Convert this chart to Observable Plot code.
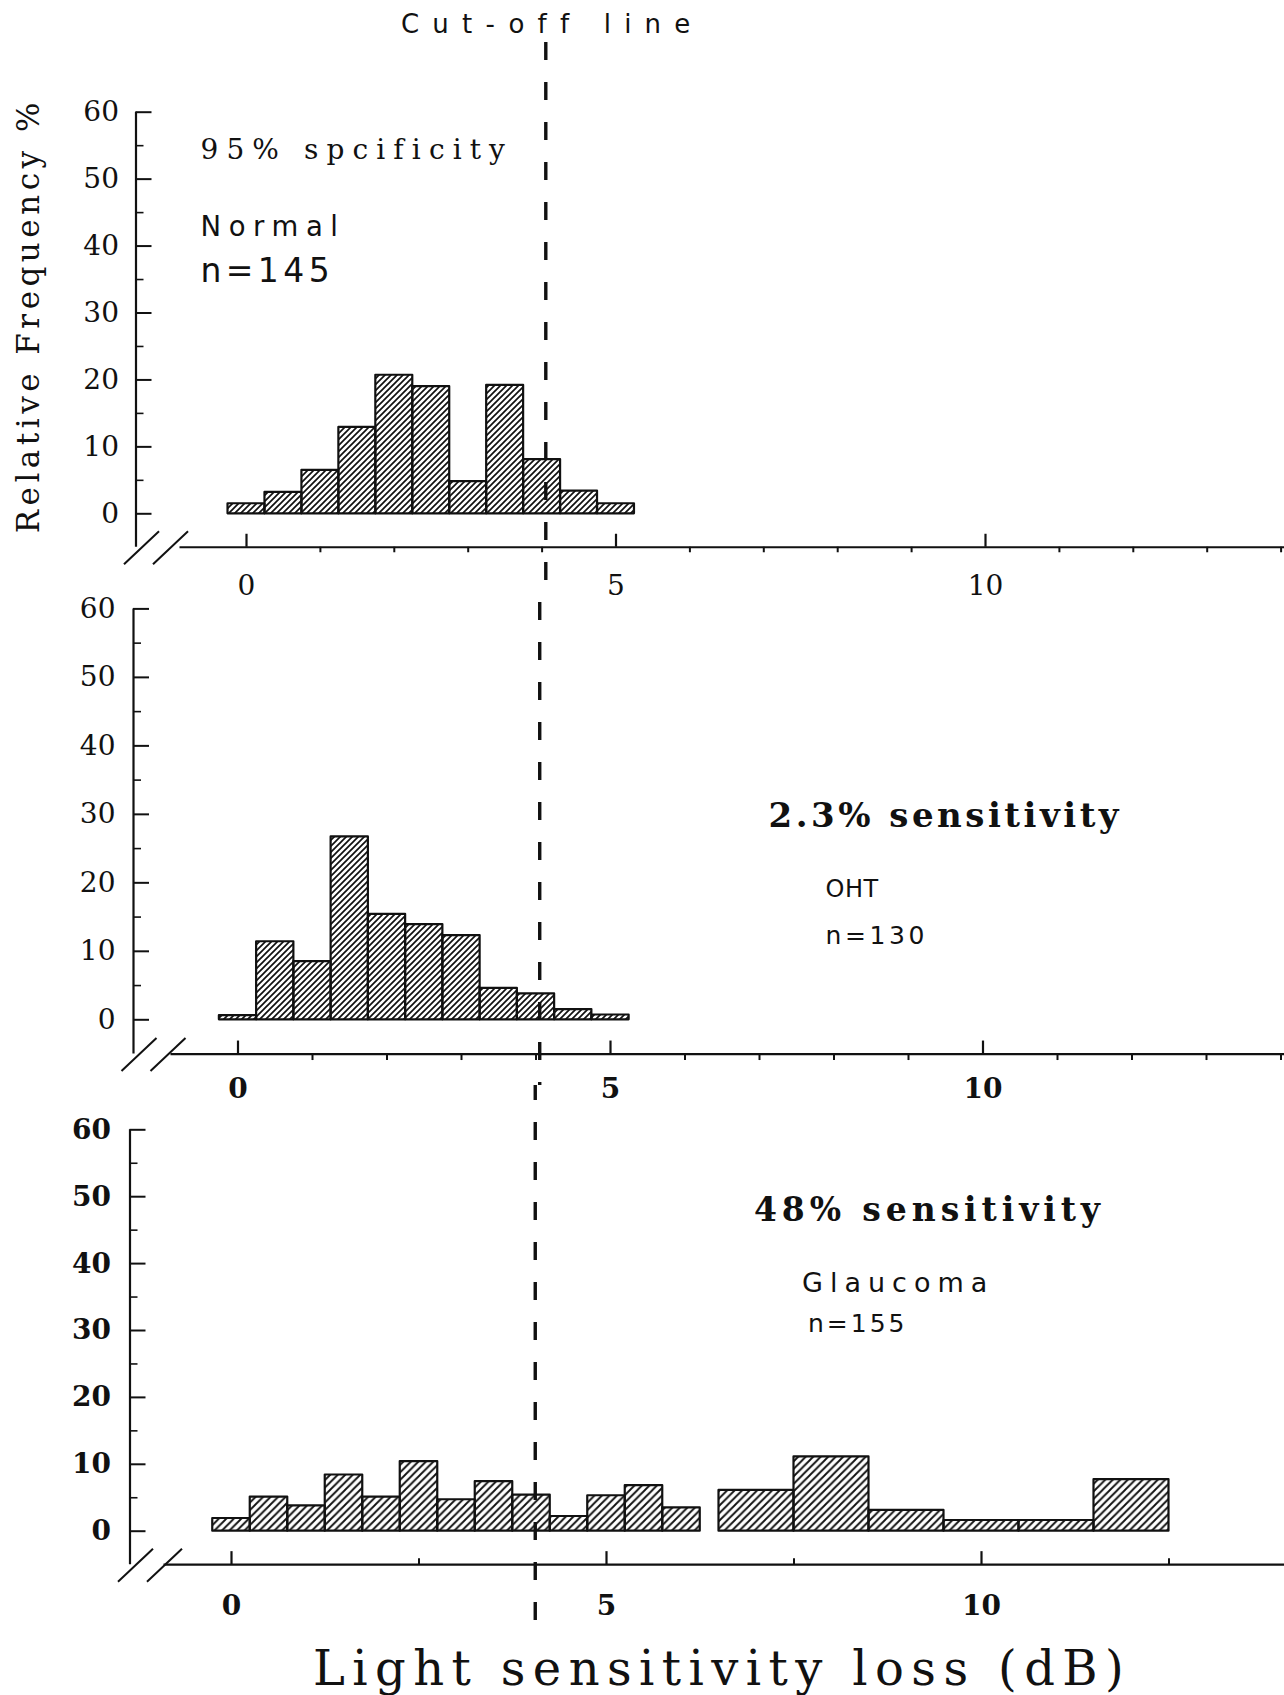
<!DOCTYPE html>
<html>
<head>
<meta charset="utf-8">
<script src="https://cdn.jsdelivr.net/npm/d3@7"></script>
<script src="https://cdn.jsdelivr.net/npm/@observablehq/plot@0.6"></script>
<style>
  html, body { margin: 0; padding: 0; background: #fff; }
  #page { position: relative; width: 1284px; height: 1695px; overflow: hidden; background: #fff; }
  #page > svg.panel { position: absolute; left: 0; }
  .htxt { position: absolute; white-space: pre; color: #111; line-height: 1; }
  #cutTitle { left: 401px; top: 11px; font-family: "DejaVu Sans", sans-serif; font-weight: normal; font-size: 26px; letter-spacing: 13.2px; }
  #xTitle { left: 313px; top: 1644px; font-family: "DejaVu Serif", serif; font-size: 48px; letter-spacing: 7.4px; }
</style>
</head>
<body>
<div id="page">
  <svg width="0" height="0" style="position:absolute;left:0;top:0">
    <defs>
      <pattern id="hatch6" patternUnits="userSpaceOnUse" width="6" height="6">
        <path d="M-1,1 L1,-1 M0,6 L6,0 M5,7 L7,5" stroke="#111" stroke-width="1.7"/>
      </pattern>
      <pattern id="hatch8" patternUnits="userSpaceOnUse" width="7.5" height="7.5">
        <path d="M-1,1 L1,-1 M0,7.5 L7.5,0 M6.5,8.5 L8.5,6.5" stroke="#111" stroke-width="1.9"/>
      </pattern>
    </defs>
  </svg>
  <div id="cutTitle" class="htxt">Cut-off line</div>
  <div id="xTitle" class="htxt">Light sensitivity loss (dB)</div>
</div>
<script>
// ---------------- data ----------------
const cutoff = 4.05; // dB, cut-off line

const normalLo   = [-0.25, 0.25, 0.75, 1.25, 1.75, 2.25, 2.75, 3.25, 3.75, 4.25, 4.75];
const normalHi   = [0.25, 0.75, 1.25, 1.75, 2.25, 2.75, 3.25, 3.75, 4.25, 4.75, 5.25];
const normalFreq = [1.5, 3.2, 6.5, 12.9, 20.7, 19.0, 4.8, 19.2, 8.1, 3.4, 1.5];

const ohtLo   = [-0.25, 0.25, 0.75, 1.25, 1.75, 2.25, 2.75, 3.25, 3.75, 4.25, 4.75];
const ohtHi   = [0.25, 0.75, 1.25, 1.75, 2.25, 2.75, 3.25, 3.75, 4.25, 4.75, 5.25];
const ohtFreq = [0.6, 11.4, 8.5, 26.7, 15.4, 13.9, 12.3, 4.6, 3.8, 1.5, 0.7];

const glaucomaLo   = [-0.25, 0.25, 0.75, 1.25, 1.75, 2.25, 2.75, 3.25, 3.75, 4.25, 4.75, 5.25, 5.75, 6.5, 7.5, 8.5, 9.5, 10.5, 11.5];
const glaucomaHi   = [0.25, 0.75, 1.25, 1.75, 2.25, 2.75, 3.25, 3.75, 4.25, 4.75, 5.25, 5.75, 6.25, 7.5, 8.5, 9.5, 10.5, 11.5, 12.5];
const glaucomaFreq = [1.9, 5.1, 3.8, 8.4, 5.1, 10.4, 4.7, 7.4, 5.4, 2.2, 5.3, 6.8, 3.5, 6.1, 11.1, 3.1, 1.6, 1.6, 7.7];

const yMajorTicks = [0, 10, 20, 30, 40, 50, 60];
const yMinorTicks = [5, 15, 25, 35, 45, 55];
const xMajorTicks = [0, 5, 10];
const xMinorTicksUnit = [1, 2, 3, 4, 6, 7, 8, 9, 11, 12, 13, 14];
const xMinorTicksHalf = [2.5, 7.5, 12.5];

const normalNotes   = ["95% spcificity", "Normal", "n=145"];
const ohtNotes      = ["2.3% sensitivity", "OHT", "n=130"];
const glaucomaNotes = ["48% sensitivity", "Glaucoma", "n=155"];
const yTitle = "Relative Frequency %";

// ---------------- layout / style ----------------
const INK = "#111";
const W = 1284;
const SERIF = "DejaVu Serif, serif";
const SANS = "DejaVu Sans, sans-serif";
const LINE_TOP = 42, LINE_BOT = 1632, DASH = [18, 22];
const AXIS_START = -0.9;

const panels = [
  {lo: normalLo, hi: normalHi, freq: normalFreq, hatch: "hatch6", notes: normalNotes,
   S: 40, H: 555, top60: 111.7, zero: 513.3, x0: 246, ppd: 73.9, axisPx: 135.5,
   minor: xMinorTicksUnit, minorUp: false, minorLen: 5.5, yPad: 17, xPad: 27.5,
   labelWeight: "normal", yLabelWeight: "normal",
   noteStyle: [
     {dx: 64.5, dy: 46.6, fontFamily: SERIF, fontSize: 28, fontWeight: "normal", ls: 8.1},
     {dx: 64.5, dy: 123.3, fontFamily: SANS, fontSize: 27.5, fontWeight: "normal", ls: 7.6},
     {dx: 64.5, dy: 170, fontFamily: SANS, fontSize: 33, fontWeight: "normal", ls: 4.4}
   ], yTitle: true},
  {lo: ohtLo, hi: ohtHi, freq: ohtFreq, hatch: "hatch6", notes: ohtNotes,
   S: 595, H: 490, top60: 608.4, zero: 1019.3, x0: 237.5, ppd: 74.5, axisPx: 133,
   minor: xMinorTicksUnit, minorUp: false, minorLen: 6.5, yPad: 18, xPad: 24.5,
   labelWeight: "bold", yLabelWeight: "normal",
   noteStyle: [
     {dx: 635, dy: 218.3, fontFamily: SERIF, fontSize: 34, fontWeight: "bold", ls: 3.5},
     {dx: 692, dy: 288.3, fontFamily: SANS, fontSize: 24, fontWeight: "normal", ls: 0.5},
     {dx: 692, dy: 334.9, fontFamily: SANS, fontSize: 25, fontWeight: "normal", ls: 3.6}
   ]},
  {lo: glaucomaLo, hi: glaucomaHi, freq: glaucomaFreq, hatch: "hatch8", notes: glaucomaNotes,
   S: 1085, H: 560, top60: 1129.3, zero: 1530.7, x0: 231, ppd: 75, axisPx: 129.5,
   minor: xMinorTicksHalf, minorUp: true, minorLen: 6, yPad: 19, xPad: 30.5,
   labelWeight: "bold", yLabelWeight: "bold",
   noteStyle: [
     {dx: 624, dy: 90.7, fontFamily: SERIF, fontSize: 33, fontWeight: "bold", ls: 4.9},
     {dx: 672, dy: 162.4, fontFamily: SANS, fontSize: 27, fontWeight: "normal", ls: 7.0},
     {dx: 678, dy: 202.4, fontFamily: SANS, fontSize: 25, fontWeight: "normal", ls: 3.0}
   ]}
];

const page = document.getElementById("page");

for (const p of panels) {
  const k = (p.zero - p.top60) / 60;            // px per % unit
  const yLowPx = p.zero + 5 * k;                 // page px of y = -5
  const mt = p.top60 - p.S, mb = p.S + p.H - yLowPx;
  const xmin = (p.axisPx - p.x0) / p.ppd, xmax = (W - p.x0) / p.ppd;
  const pageToY = px => 60 - (px - p.top60) / k;
  const segTop = Math.max(LINE_TOP, p.S), segBot = Math.min(LINE_BOT, p.S + p.H);
  const period = DASH[0] + DASH[1];
  const idx = d3.range(p.freq.length);

  // axis-break slashes, offsets (px) from the axis corner
  const brk = [{a: -12, b: 23}, {a: 17, b: 52}];

  const marks = [
    // histogram bars
    Plot.rect(idx, {
      x1: i => p.lo[i], x2: i => p.hi[i], y1: () => 0, y2: i => p.freq[i],
      fill: `url(#${p.hatch})`, stroke: INK, strokeWidth: 2.2, strokeLinejoin: "round"
    }),
    // y axis line
    Plot.ruleX([xmin], {y1: -5, y2: 60, stroke: INK, strokeWidth: 2.2}),
    // y ticks (inward)
    Plot.ruleY(yMajorTicks, {x1: xmin, x2: xmin + 16 / p.ppd, stroke: INK, strokeWidth: 2}),
    Plot.ruleY(yMinorTicks, {x1: xmin, x2: xmin + 8 / p.ppd, stroke: INK, strokeWidth: 1.6}),
    // x axis line
    Plot.ruleY([-5], {x1: AXIS_START, x2: xmax, stroke: INK, strokeWidth: 2.2}),
    // x ticks
    Plot.ruleX(xMajorTicks, {y1: -5, y2: -5 + 13 / k, stroke: INK, strokeWidth: 2.2}),
    Plot.ruleX(p.minor, {y1: -5, y2: -5 + (p.minorUp ? 1 : -1) * p.minorLen / k, stroke: INK, strokeWidth: 2}),
    // axis break "//"
    Plot.link(brk, {
      x1: d => xmin + d.a / p.ppd, x2: d => xmin + d.b / p.ppd,
      y1: () => -5 - 17 / k, y2: () => -5 + 16 / k,
      stroke: INK, strokeWidth: 2
    }),
    // tick labels
    Plot.axisY(yMajorTicks, {anchor: "left", tickSize: 0, tickPadding: p.yPad, label: null,
      fontSize: 28, fontFamily: SERIF, fontWeight: p.yLabelWeight}),
    Plot.axisX(xMajorTicks, {anchor: "bottom", tickSize: 0, tickPadding: p.xPad, label: null,
      fontSize: 28, fontFamily: SERIF, fontWeight: p.labelWeight}),
    // cut-off line segment
    Plot.ruleX([cutoff], {
      y1: pageToY(segTop), y2: pageToY(segBot),
      stroke: INK, strokeWidth: 3.4, strokeDasharray: DASH.join(" "),
      strokeDashoffset: (segTop - LINE_TOP) % period
    })
  ];

  // annotations
  p.notes.forEach((t, j) => {
    const s = p.noteStyle[j];
    marks.push(Plot.text([t], {
      frameAnchor: "top-left", dx: s.dx, dy: s.dy, textAnchor: "start", lineAnchor: "bottom",
      fontFamily: s.fontFamily, fontSize: s.fontSize, fontWeight: s.fontWeight, fill: INK
    }));
  });

  if (p.yTitle) {
    marks.push(Plot.text([yTitle], {
      frameAnchor: "left", rotate: -90, dx: 38 - p.axisPx, dy: -14,
      textAnchor: "middle", lineAnchor: "bottom",
      fontFamily: SERIF, fontSize: 31, fill: INK
    }));
  }

  const svg = Plot.plot({
    width: W, height: p.H,
    marginTop: mt, marginBottom: mb, marginLeft: p.axisPx, marginRight: 0,
    x: {domain: [xmin, xmax]},
    y: {domain: [-5, 60]},
    style: {background: "transparent", overflow: "visible", color: INK, fontFamily: SERIF, fontSize: "28px"},
    marks
  });
  svg.classList.add("panel");
  svg.style.top = p.S + "px";
  svg.style.position = "absolute";
  svg.style.left = "0px";

  // letter spacing of annotations
  const spacing = new Map(p.notes.map((t, j) => [t, p.noteStyle[j].ls]));
  if (p.yTitle) spacing.set(yTitle, 4.5);
  d3.select(svg).selectAll("text").each(function () {
    const t = this.textContent;
    if (spacing.has(t)) this.style.letterSpacing = spacing.get(t) + "px";
  });

  page.appendChild(svg);
}
</script>
</body>
</html>
